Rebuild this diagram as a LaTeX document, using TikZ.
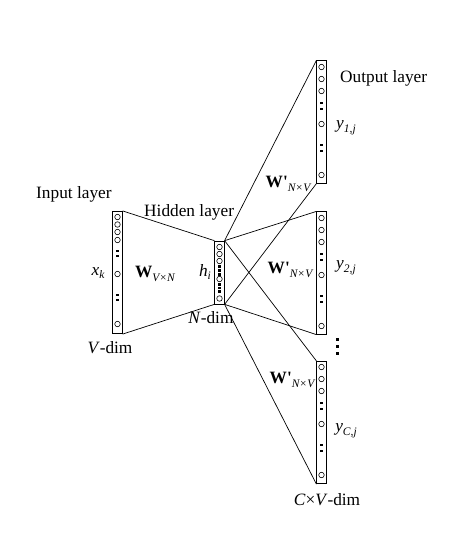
\documentclass[tikz,border=0pt]{standalone}
\usepackage{fontspec}
\setmainfont{Liberation Serif}
\newcommand{\lowsub}[1]{\raisebox{-0.45ex}{\fontsize{11.5}{12}\selectfont\itshape #1}}
\newcommand{\wprime}{\textbf{W\textquotesingle}}
\begin{document}
\begin{tikzpicture}[
        x=1pt,y=-1pt,
        every node/.style={font=\fontsize{17.3}{19}\selectfont},
        lay/.style={draw,line width=0.7pt,rectangle,minimum width=9.5pt,minimum height=122.5pt,inner sep=0},
        c/.style={draw,line width=0.6pt,circle,inner sep=0,minimum size=5.5pt},
        d/.style={fill,rectangle,inner sep=0,minimum size=2.6pt},
        lbl/.style={anchor=base west,inner sep=0}
    ]

    \useasboundingbox (0,0) rectangle (454,539);

    % layers
    \node[lay] (in) at (117.5,272.5) {};
    \node[lay,minimum height=63pt] (hid) at (219.5,272.5) {};
    \node[lay] (out1) at (321.5,122) {};
    \node[lay] (out2) at (321.5,273) {};
    \node[lay] (out3) at (321.5,422.5) {};

    % units
    \foreach \y [count=\i] in {217,224.5,232,240,274,324}
        \node[c] (in-c\i) at (117.5,\y) {};
    \foreach \y [count=\i] in {251,256,295,300}
        \node[d] (in-d\i) at (117.5,\y) {};
    \foreach \y [count=\i] in {247,254,261,279,298.5}
        \node[c] (hid-c\i) at (219.5,\y) {};
    \foreach \y [count=\i] in {266.5,270.5,274.5,284.5,288,291.5}
        \node[d] (hid-d\i) at (219.5,\y) {};
    \foreach \k/\t in {1/61,2/212,3/361} {
        \foreach \y [count=\i] in {6,18,30,63,114}
            \node[c] (out\k-c\i) at (321.5,\t+\y) {};
        \foreach \y [count=\i] in {42,48,84,90}
            \node[d] (out\k-d\i) at (321.5,\t+\y) {};
    }
    \foreach \y [count=\i] in {339,346,353}
        \node[d,minimum size=3pt] (vd\i) at (337.5,\y) {};

    % weights
    \draw[line width=0.7pt]
        (in.north east) -- (hid.north west)
        (in.south east) -- (hid.south west);
    \foreach \k in {1,2,3}
        \draw[line width=0.7pt]
            (hid.north east) -- (out\k.north west)
            (hid.south east) -- (out\k.south west);

    % labels
    \node[lbl] (inlab) at (36,198) {Input layer};
    \node[lbl] (hidlab) at (144,216) {Hidden layer};
    \node[lbl] (outlab) at (340,82) {Output layer};
    \node (xk) at (98,273) {\textit{x}\lowsub{k}};
    \node (win) at (155,274) {\textbf{W}\lowsub{V×N}};
    \node (hi) at (205,272) {\textit{h}\lowsub{i}};
    \node (ndim) at (211,318) {\textit{N}-dim};
    \node (vdim) at (110,348) {\textit{V}-dim};
    \node (w1) at (288,184) {\wprime\lowsub{N×V}};
    \node (w2) at (290,270) {\wprime\lowsub{N×V}};
    \node (w3) at (292,380) {\wprime\lowsub{N×V}};
    \node (y1) at (346,128) {\textit{y}\lowsub{1,j}};
    \node (y2) at (346,268) {\textit{y}\lowsub{2,j}};
    \node (yc) at (346,431) {\textit{y}\lowsub{C,j}};
    \node (cvdim) at (327,500) {\textit{C}×\textit{V}-dim};

\end{tikzpicture}
\end{document}
